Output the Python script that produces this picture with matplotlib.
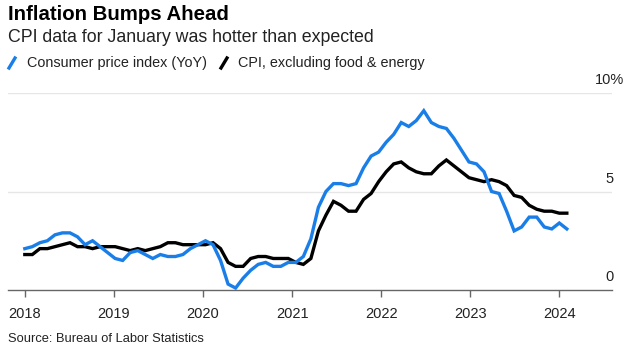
import numpy as np
import matplotlib
matplotlib.use("Agg")
import matplotlib.pyplot as plt
from matplotlib.lines import Line2D

plt.rcParams['font.family'] = ['Liberation Sans', 'DejaVu Sans']

# monthly year-over-year change, Jan 2018 - Jan 2024
cpi = [2.1, 2.2, 2.4, 2.5, 2.8, 2.9, 2.9, 2.7, 2.3, 2.5, 2.2, 1.9,
       1.6, 1.5, 1.9, 2.0, 1.8, 1.6, 1.8, 1.7, 1.7, 1.8, 2.1, 2.3,
       2.5, 2.3, 1.5, 0.3, 0.1, 0.6, 1.0, 1.3, 1.4, 1.2, 1.2, 1.4,
       1.4, 1.7, 2.6, 4.2, 5.0, 5.4, 5.4, 5.3, 5.4, 6.2, 6.8, 7.0,
       7.5, 7.9, 8.5, 8.3, 8.6, 9.1, 8.5, 8.3, 8.2, 7.7, 7.1, 6.5,
       6.4, 6.0, 5.0, 4.9, 4.0, 3.0, 3.2, 3.7, 3.7, 3.2, 3.1, 3.4,
       3.1]
core = [1.8, 1.8, 2.1, 2.1, 2.2, 2.3, 2.4, 2.2, 2.2, 2.1, 2.2, 2.2,
        2.2, 2.1, 2.0, 2.1, 2.0, 2.1, 2.2, 2.4, 2.4, 2.3, 2.3, 2.3,
        2.3, 2.4, 2.1, 1.4, 1.2, 1.2, 1.6, 1.7, 1.7, 1.6, 1.6, 1.6,
        1.4, 1.3, 1.6, 3.0, 3.8, 4.5, 4.3, 4.0, 4.0, 4.6, 4.9, 5.5,
        6.0, 6.4, 6.5, 6.2, 6.0, 5.9, 5.9, 6.3, 6.6, 6.3, 6.0, 5.7,
        5.6, 5.5, 5.6, 5.5, 5.3, 4.8, 4.7, 4.3, 4.1, 4.0, 4.0, 3.9,
        3.9]
years = ['2018', '2019', '2020', '2021', '2022', '2023', '2024']
y_ticks = [0, 5, 10]
y_labels = ['0', '5', '10%']

BLUE = '#1a7ee8'
W, H = 632, 350

fig = plt.figure(figsize=(W / 100, H / 100), dpi=100)
ax = fig.add_axes([7.5 / W, 1 - 290 / H, (612 - 7.5) / W, 197 / H])

x = np.arange(len(cpi))
ax.plot(x, core, color='black', lw=2.4, solid_joinstyle='miter', zorder=3)
ax.plot(x, cpi, color=BLUE, lw=2.4, solid_joinstyle='miter', zorder=4)

ax.set_xlim(-2.3, 78)
ax.set_ylim(0, 10)

for s in ['top', 'right', 'left']:
    ax.spines[s].set_visible(False)
ax.spines['bottom'].set_color('#666666')
ax.spines['bottom'].set_linewidth(1)

for v in y_ticks[1:]:
    ax.axhline(v, color='#e6e6e6', lw=1, zorder=1)
ax.set_yticks([])

# year ticks (axis spacing is slightly tighter than one tick per 12 points)
tick_pos = np.arange(len(years)) * 12 * (len(cpi) - 1) / len(cpi)
ax.set_xticks(tick_pos)
ax.set_xticklabels(years, fontsize=10.5, color='#222222')
ax.tick_params(axis='x', length=5, width=1, color='#666666', pad=7)

# right-hand value labels sitting above the gridlines ("%" hangs past the edge)
for v, lab in zip(y_ticks, y_labels):
    dx = 9 if lab.endswith('%') else 1
    ax.annotate(lab, xy=(1, v), xycoords=('axes fraction', 'data'),
                xytext=(dx, 4), textcoords='offset points',
                ha='right', va='bottom', fontsize=10.5, color='#222222')

# header
fig.text(8 / W, 1 - 14 / H, 'Inflation Bumps Ahead', fontsize=14.7,
         fontweight='bold', va='center', ha='left', color='black')
fig.text(8 / W, 1 - 38 / H, 'CPI data for January was hotter than expected',
         fontsize=12.8, va='center', ha='left', color='#222222')

# legend with slash markers
fig.add_artist(Line2D([9 / W, 15 / W], [1 - 68 / H, 1 - 58 / H],
                      color=BLUE, lw=2.4, transform=fig.transFigure))
fig.text(27 / W, 1 - 63 / H, 'Consumer price index (YoY)', fontsize=10.4,
         va='center', ha='left', color='#222222')
fig.add_artist(Line2D([221 / W, 227 / W], [1 - 68 / H, 1 - 58 / H],
                      color='black', lw=2.4, transform=fig.transFigure))
fig.text(238 / W, 1 - 63 / H, 'CPI, excluding food & energy', fontsize=10.4,
         va='center', ha='left', color='#222222')

fig.text(8 / W, 1 - 339 / H, 'Source: Bureau of Labor Statistics',
         fontsize=9.3, va='center', ha='left', color='#222222')

fig.savefig('out.png', dpi=100, facecolor='white')
